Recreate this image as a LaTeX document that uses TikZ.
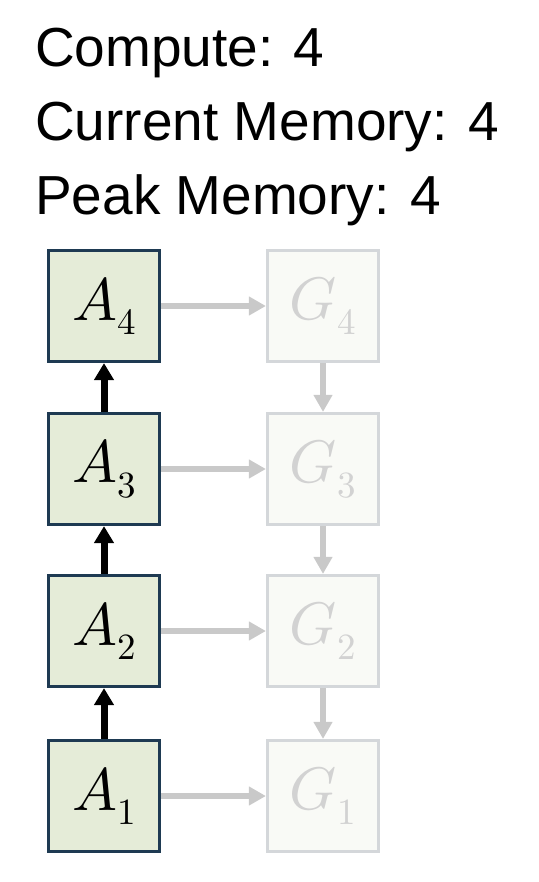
\documentclass[tikz,border=0pt]{standalone}
\usepackage{fontspec}
\setmainfont{Liberation Sans}
\usepackage{unicode-math}
\setmathfont{Latin Modern Math}
\usetikzlibrary{arrows.meta}
\newcommand\bigsub[1]{_{\mbox{\fontsize{37}{39}\selectfont$#1$}}}
\definecolor{afill}{HTML}{E5ECD8}
\definecolor{aborder}{HTML}{1E3A52}
\definecolor{gfill}{HTML}{F9FAF6}
\definecolor{gborder}{HTML}{D4D7DA}
\definecolor{gtext}{HTML}{D2D2D2}
\definecolor{garrow}{HTML}{C9C9C9}
\tikzset{
  abox/.style={draw=aborder, line width=3.2pt, fill=afill, minimum width=111pt, minimum height=111pt, inner sep=0pt, font=\fontsize{60}{62}\selectfont},
  gbox/.style={draw=gborder, line width=3.2pt, fill=gfill, text=gtext, minimum width=111pt, minimum height=111pt, inner sep=0pt, font=\fontsize{60}{62}\selectfont},
  fwd/.style={line width=7pt, -{Triangle[length=17pt,width=19pt]}, black},
  grayarr/.style={line width=6pt, -{Triangle[length=17pt,width=18pt]}, garrow},
  hdr/.style={anchor=base west, inner sep=0pt, font=\fontsize{55}{60}\selectfont}
}
\begin{document}
\begin{tikzpicture}[x=1pt,y=1pt]
\useasboundingbox (0,0) rectangle (538,-882);
\node[hdr] (t1) at (35,-67) {Compute: 4};
\node[hdr] (t2) at (35,-141) {Current Memory: 4};
\node[hdr] (t3) at (35,-215) {Peak Memory: 4};
\node[abox] (a4) at (104,-306) {$A\bigsub{4}$};
\node[abox] (a3) at (104,-469) {$A\bigsub{3}$};
\node[abox] (a2) at (104,-631) {$A\bigsub{2}$};
\node[abox] (a1) at (104,-796) {$A\bigsub{1}$};
\node[gbox] (g4) at (323,-306) {$G\bigsub{4}$};
\node[gbox] (g3) at (323,-469) {$G\bigsub{3}$};
\node[gbox] (g2) at (323,-631) {$G\bigsub{2}$};
\node[gbox] (g1) at (323,-796) {$G\bigsub{1}$};
\draw[fwd] (a1.north) -- (a2.south);
\draw[fwd] (a2.north) -- (a3.south);
\draw[fwd] (a3.north) -- (a4.south);
\foreach \i in {1,2,3,4} {\draw[grayarr] (a\i.east) -- (g\i.west);}
\draw[grayarr] (g4.south) -- (g3.north);
\draw[grayarr] (g3.south) -- (g2.north);
\draw[grayarr] (g2.south) -- (g1.north);
\end{tikzpicture}
\end{document}
